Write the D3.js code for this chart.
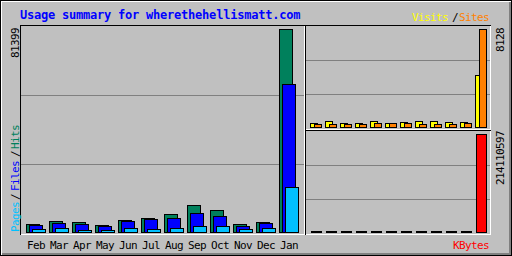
<!DOCTYPE html>
<html><head><meta charset="utf-8">
<script src="https://cdn.jsdelivr.net/npm/d3@7/dist/d3.min.js"></script>
<style>
html,body{margin:0;padding:0;background:#c0c0c0;}
svg{display:block;}
text{font-family:"DejaVu Sans Mono",monospace;font-size:11px;letter-spacing:-0.62px;}
</style></head>
<body>
<script>
const title = "Usage summary for wherethehellismatt.com";
const months = ["Feb","Mar","Apr","May","Jun","Jul","Aug","Sep","Oct","Nov","Dec","Jan"];
const hits   = [3208, 4411, 4010, 2807, 4812, 5614, 7218, 10827, 8822, 3208, 4010, 81399];
const files  = [2700, 3609, 3208, 2300, 4411, 5213, 5614, 7619, 6416, 2406, 3609, 59350];
const pages  = [1200, 1600, 800, 800, 1600, 1200, 1600, 2406, 2406, 1300, 1600, 18044];
const visits = [330, 470, 310, 310, 470, 310, 390, 470, 470, 390, 390, 4290];
const sites  = [250, 225, 225, 225, 310, 310, 310, 225, 225, 225, 310, 8128];
const kbytes = [2400000, 2400000, 2400000, 2400000, 2400000, 2400000, 2400000, 2400000, 2400000, 2400000, 2400000, 214110597];

const C = {grey:"#c0c0c0", dk:"#808080", white:"#ffffff", black:"#000000",
  hits:"#00805c", files:"#0000ff", pages:"#00c0ff", visits:"#ffff00", sites:"#ff8000", kb:"#ff0000", title:"#0000ff"};

const svg = d3.select("body").append("svg").attr("width",512).attr("height",256)
  .attr("shape-rendering","crispEdges");

function px(x1,y1,x2,y2,color){ // filled pixel block inclusive
  svg.append("rect").attr("x",x1).attr("y",y1).attr("width",x2-x1+1).attr("height",y2-y1+1).attr("fill",color);
}
function bar(g,x1,x2,y1,y2,color){
  g.append("rect").attr("x",x1+0.5).attr("y",y1+0.5).attr("width",x2-x1).attr("height",Math.max(0,y2-y1))
   .attr("fill",color).attr("stroke",C.black).attr("stroke-width",1);
}

// background and frame
px(0,0,511,255,C.grey);
px(0,0,511,0,C.black); px(0,255,511,255,C.black); px(0,0,0,255,C.black); px(511,0,511,255,C.black);
px(1,1,510,1,C.white); px(1,1,1,254,C.white);
px(509,2,510,254,C.dk); px(2,253,510,254,C.dk);

// panels
const panels = [
  {x1:20,y1:25,x2:304,y2:234},
  {x1:305,y1:25,x2:490,y2:129},
  {x1:305,y1:130,x2:490,y2:234}
];
panels.forEach(p=>{
  const h = p.y2 - p.y1;
  [1,2].forEach(k=>{ const gy = p.y1 + Math.round(h*k/3); px(p.x1+1,gy,p.x2-1,gy,C.dk); });
  px(p.x1,p.y1,p.x2,p.y1,C.black); px(p.x1,p.y1,p.x1,p.y2,C.black);
  px(p.x2,p.y1+1,p.x2,p.y2,C.white); px(p.x1+1,p.y2,p.x2,p.y2,C.white);
});

// scales
const xMain = d3.scaleBand().domain(months).range([26, 26+12*23]).padding(0);
const xSide = d3.scaleBand().domain(months).range([310, 310+12*15]).padding(0);
const maxHits = d3.max(hits), maxSites = d3.max([...visits,...sites]), maxKb = d3.max(kbytes);
const yMain = d3.scaleLinear().domain([0,maxHits]).range([232,29]);
const yVS = d3.scaleLinear().domain([0,maxSites]).range([127,29]);
const yKb = d3.scaleLinear().domain([0,maxKb]).range([232,134]);

const gBars = svg.append("g");
months.forEach((m,i)=>{
  const x = xMain(m);
  bar(gBars,x,x+13,Math.round(yMain(hits[i])),232,C.hits);
  bar(gBars,x+3,x+16,Math.round(yMain(files[i])),232,C.files);
  bar(gBars,x+6,x+19,Math.round(yMain(pages[i])),232,C.pages);
  const xs = xSide(m);
  bar(gBars,xs,xs+7,Math.round(yVS(visits[i])),127,C.visits);
  bar(gBars,xs+4,xs+11,Math.round(yVS(sites[i])),127,C.sites);
  bar(gBars,xs+1,xs+11,Math.round(yKb(kbytes[i])),232,C.kb);
});

// texts
const t = svg.append("g").attr("shape-rendering","auto");
t.append("text").attr("x",20).attr("y",19).attr("fill",C.title)
  .style("font-weight","bold").style("font-size","12px").style("letter-spacing","-0.22px").text(title);

months.forEach(m=>{
  t.append("text").attr("x",xMain(m)+1).attr("y",249).attr("fill",C.black).text(m);
});

function up(x,y,str,color,anchor){
  t.append("text").attr("transform",`translate(${x},${y}) rotate(-90)`)
   .attr("text-anchor",anchor||"start").attr("fill",color).text(str);
}
up(19,28,String(maxHits),C.black,"end");
up(504,28,String(maxSites),C.black,"end");
up(504,131,String(maxKb),C.black,"end");
up(19,232,"Pages",C.pages);
up(19,200,"/",C.black);
up(19,191,"Files",C.files);
up(19,157,"/",C.black);
up(19,149,"Hits",C.hits);

t.append("text").attr("x",412).attr("y",21).attr("fill",C.visits).text("Visits");
t.append("text").attr("x",452).attr("y",21).attr("fill",C.black).text("/");
t.append("text").attr("x",459).attr("y",21).attr("fill",C.sites).text("Sites");
t.append("text").attr("x",453).attr("y",249).attr("fill",C.kb).text("KBytes");
</script>
</body></html>
